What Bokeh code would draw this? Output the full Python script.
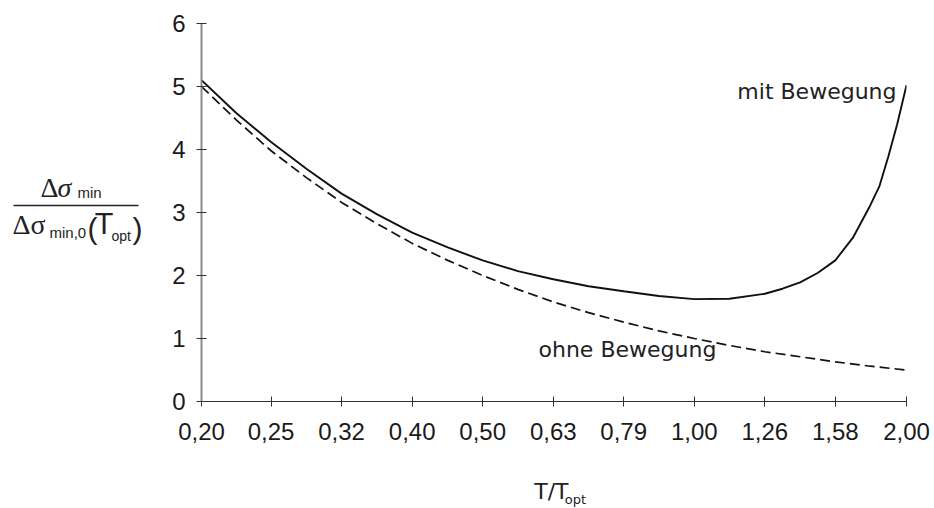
from bokeh.plotting import figure
from bokeh.models import Range1d, FixedTicker, Label
from bokeh.layouts import row, column
from bokeh.core.properties import value
from bokeh.embed import file_html
from bokeh.resources import INLINE

# ---- data ----
t_ticks = [0.2, 0.251, 0.316, 0.398, 0.501, 0.631, 0.794, 1.0, 1.259, 1.585, 2.0]
t_labels = ["0,20", "0,25", "0,32", "0,40", "0,50", "0,63", "0,79", "1,00", "1,26", "1,58", "2,00"]
y_ticks = [0, 1, 2, 3, 4, 5, 6]

t_ohne = [0.200, 0.224, 0.251, 0.282, 0.316, 0.355, 0.398, 0.447, 0.501, 0.562, 0.631,
          0.708, 0.794, 0.891, 1.000, 1.122, 1.259, 1.413, 1.585, 1.778, 2.000]
s_ohne = [5.00, 4.47, 3.98, 3.55, 3.16, 2.82, 2.51, 2.24, 2.00, 1.78, 1.58,
          1.41, 1.26, 1.12, 1.00, 0.89, 0.79, 0.71, 0.63, 0.56, 0.50]

t_mit = [0.200, 0.224, 0.251, 0.282, 0.316, 0.355, 0.398, 0.447, 0.501, 0.562, 0.631,
         0.708, 0.794, 0.891, 1.000, 1.122, 1.259, 1.334, 1.413, 1.496, 1.585, 1.679,
         1.778, 1.831, 1.884, 1.940, 2.000]
s_mit = [5.10, 4.58, 4.12, 3.69, 3.30, 2.97, 2.68, 2.445, 2.24, 2.07, 1.94,
         1.83, 1.75, 1.675, 1.625, 1.63, 1.71, 1.79, 1.89, 2.04, 2.24, 2.60,
         3.12, 3.42, 3.88, 4.40, 5.02]

label_mit = "mit Bewegung"
label_ohne = "ohne Bewegung"

# ---- layout (canvas pixels) ----
W, H = 934, 508
LW = 150            # width of the left title strip
BH = 38             # height of the bottom title strip
FL, FR, FT, FBOT = 201, 906, 23, 401   # frame edges in canvas pixels
SHIFT = 0.4         # empirical baseline correction (fraction of font size)

MW, MH = W - LW, H - BH

p = figure(width=MW, height=MH, x_axis_type="log",
           x_range=Range1d(0.19999, 2.00001), y_range=Range1d(0, 6),
           output_backend="svg", toolbar_location=None,
           min_border_left=FL - LW, min_border_right=W - FR,
           min_border_top=FT, min_border_bottom=MH - FBOT)
p.outline_line_color = None
p.xgrid.grid_line_color = None
p.ygrid.grid_line_color = None
p.background_fill_color = "white"
p.border_fill_color = "white"

p.line(t_mit, s_mit, line_color="#111111", line_width=1.9)
p.line(t_ohne, s_ohne, line_color="#111111", line_width=1.7, line_dash="10 5")

xa = p.xaxis[0]
xa.ticker = FixedTicker(ticks=t_ticks)
xa.major_label_overrides = {v: s for v, s in zip(t_ticks, t_labels)}
xa.axis_line_color = "#333333"
xa.axis_line_width = 1.2
xa.major_tick_line_color = "#333333"
xa.major_tick_in = 5
xa.major_tick_out = 5
xa.minor_tick_line_color = None
xa.major_label_text_font = "Liberation Sans"
xa.major_label_text_font_size = "24px"
xa.major_label_text_color = "#1a1a1a"
xa.major_label_standoff = 16

ya = p.yaxis[0]
ya.ticker = FixedTicker(ticks=y_ticks)
ya.axis_line_color = "#8a8a8a"
ya.axis_line_width = 2
ya.major_tick_line_color = "#333333"
ya.major_tick_in = 5
ya.major_tick_out = 5
ya.minor_tick_line_color = None
ya.major_label_text_font = "Liberation Sans"
ya.major_label_text_font_size = "24px"
ya.major_label_text_color = "#1a1a1a"
ya.major_label_standoff = 11


def inlab(text, px, py, size, align="left"):
    py = py - SHIFT * size
    p.add_layout(Label(x=px - FL, y=FBOT - py, x_units="screen", y_units="screen",
                       text=text, text_font="DejaVu Sans", text_font_size=f"{size}px",
                       text_align=align, text_baseline="alphabetic", text_color="#222222"))


inlab(label_mit, 896, 100, 22, align="right")
inlab(label_ohne, 538, 358, 22)


def strip(w, h, x0, x1, y0, y1):
    f = figure(width=w, height=h, x_range=Range1d(x0, x1), y_range=Range1d(y1, y0),
               output_backend="svg", toolbar_location=None,
               x_axis_location=None, y_axis_location=None,
               min_border=0, min_border_left=0, min_border_right=0,
               min_border_top=0, min_border_bottom=0)
    f.outline_line_color = None
    f.xgrid.grid_line_color = None
    f.ygrid.grid_line_color = None
    f.background_fill_color = "white"
    f.border_fill_color = "white"
    return f


def txt(f, s, px, py, size, font="DejaVu Sans", style="normal", color="#222222"):
    py = py - SHIFT * size
    f.text(x=[px], y=[py], text=[s], text_font=value(font), text_font_size=value(f"{size}px"),
           text_font_style=value(style), text_align=value("left"),
           text_baseline=value("alphabetic"), text_color=color)


# left strip: y title as a fraction (canvas coordinates)
left = strip(LW, H, 0, LW, 0, H)
txt(left, "Δ", 40, 198, 28, font="Liberation Serif")
txt(left, "σ", 57, 198, 28, font="Liberation Serif", style="italic")
txt(left, "min", 77, 198, 15, font="Liberation Sans")
left.line(x=[13, 138], y=[205, 205], line_color="#222222", line_width=1.5)
txt(left, "Δσ", 12, 235, 28, font="Liberation Serif")
txt(left, "min,0", 49, 238, 15, font="Liberation Sans")
txt(left, "(", 87, 240, 30, font="Liberation Sans")
txt(left, "T", 95, 235, 28, font="DejaVu Sans")
txt(left, "opt", 111, 241, 14, font="Liberation Sans")
txt(left, ")", 132, 240, 30, font="Liberation Sans")

# bottom strip: x title T/T_opt
bottom = strip(MW, BH, LW, W, MH, H)
txt(bottom, "T/T", 520, 500, 22)
txt(bottom, "opt", 554, 504, 13)

layout = row(left, column(p, bottom))
open("out.html", "w").write(file_html(layout, INLINE))
